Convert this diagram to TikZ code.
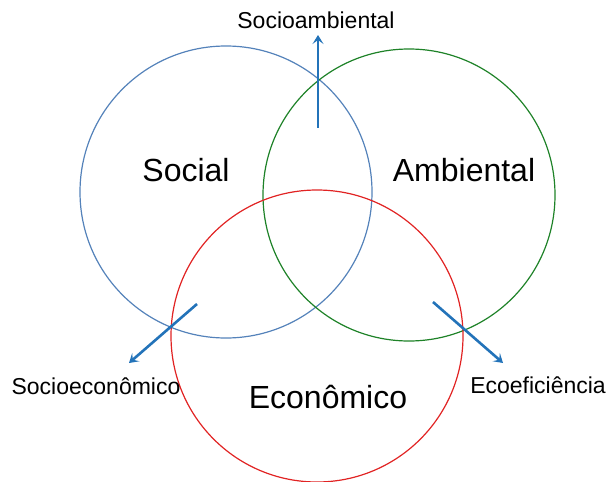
\documentclass[tikz,border=0pt]{standalone}
\usepackage{fontspec}
\setmainfont{Liberation Sans}
\usetikzlibrary{arrows.meta}

\definecolor{socialblue}{RGB}{84,130,186}
\definecolor{ambgreen}{RGB}{30,130,40}
\definecolor{ecored}{RGB}{225,35,35}
\definecolor{arrowblue}{RGB}{35,115,185}

\tikzset{
  ring/.style={circle, minimum size=292pt, inner sep=0pt, line width=1.2pt},
  bigname/.style={font=\fontsize{32}{32}\selectfont},
  smallname/.style={font=\fontsize{23}{23}\selectfont},
  outarrow/.style={arrowblue, line width=2.6pt, -{Stealth[length=9pt,width=11pt,inset=4pt]}}
}

\begin{document}
\begin{tikzpicture}[x=1pt,y=-1pt]
	\useasboundingbox (0,0) rectangle (609,481);

	% circles
	\node[ring, draw=socialblue] (social) at (226,192) {};
	\node[ring, draw=ambgreen] (ambiental) at (409,195) {};
	\node[ring, draw=ecored] (economico) at (317,336) {};

	% circle names
	\node[bigname] (tsocial) at (186,170) {Social};
	\node[bigname] (tambiental) at (464,170) {Ambiental};
	\node[bigname] (teconomico) at (328,397) {Econômico};

	% arrows
	\coordinate (sa1) at (318,128);
	\coordinate (sa2) at (318,35);
	\coordinate (se1) at (197,304);
	\coordinate (se2) at (129,363);
	\coordinate (ee1) at (433,302);
	\coordinate (ee2) at (503,363);
	\draw[outarrow] (sa1) -- (sa2);
	\draw[outarrow] (se1) -- (se2);
	\draw[outarrow] (ee1) -- (ee2);

	% arrow labels
	\node[smallname] (tsocioamb) at (316,20) {Socioambiental};
	\node[smallname] (tsocioeco) at (96,386) {Socioeconômico};
	\node[smallname] (tecoefic) at (538,385) {Ecoeficiência};
\end{tikzpicture}
\end{document}
